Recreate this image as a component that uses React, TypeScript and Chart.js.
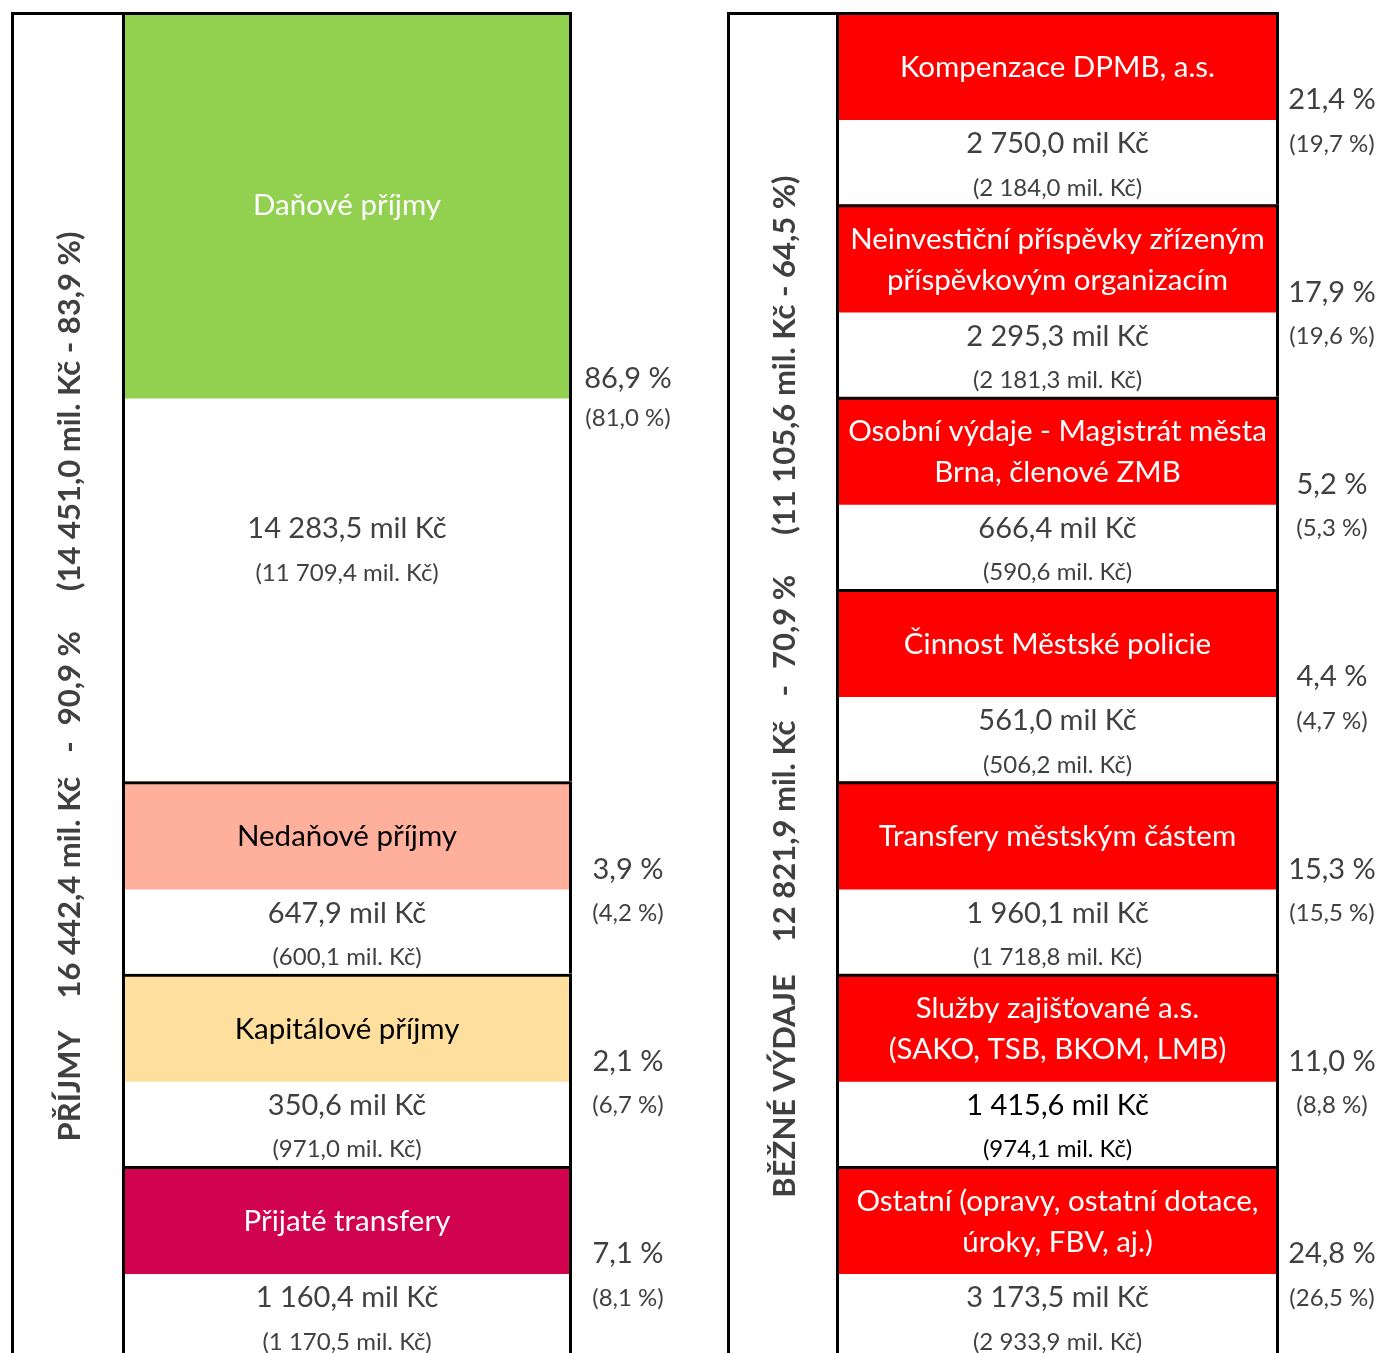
import React, { useEffect, useRef } from "react";
import { Chart, registerables } from "chart.js";

Chart.register(...registerables);

// ---------------- data ----------------
const incomeCategories = ["Daňové příjmy", "Nedaňové příjmy", "Kapitálové příjmy", "Přijaté transfery"];
const incomeValues = [14283.5, 647.9, 350.6, 1160.4];
const incomePrevValues = [11709.4, 600.1, 971.0, 1170.5];
const incomeShares = [86.9, 3.9, 2.1, 7.1];
const incomePrevShares = [81.0, 4.2, 6.7, 8.1];

const expenseCategories = [
  "Kompenzace DPMB, a.s.",
  "Neinvestiční příspěvky zřízeným\npříspěvkovým organizacím",
  "Osobní výdaje - Magistrát města\nBrna, členové ZMB",
  "Činnost Městské policie",
  "Transfery městským částem",
  "Služby zajišťované a.s.\n(SAKO, TSB, BKOM, LMB)",
  "Ostatní (opravy, ostatní dotace,\núroky, FBV, aj.)",
];
const expenseValues = [2750.0, 2295.3, 666.4, 561.0, 1960.1, 1415.6, 3173.5];
const expensePrevValues = [2184.0, 2181.3, 590.6, 506.2, 1718.8, 974.1, 2933.9];
const expenseShares = [21.4, 17.9, 5.2, 4.4, 15.3, 11.0, 24.8];
const expensePrevShares = [19.7, 19.6, 5.3, 4.7, 15.5, 8.8, 26.5];

const incomeTitle = "PŘÍJMY";
const incomeTotal = 16442.4;
const incomeTotalShare = 90.9;
const incomePrevTotal = 14451.0;
const incomePrevTotalShare = 83.9;

const expenseTitle = "BĚŽNÉ VÝDAJE";
const expenseTotal = 12821.9;
const expenseTotalShare = 70.9;
const expensePrevTotal = 11105.6;
const expensePrevTotalShare = 64.5;

// ---------------- layout & style ----------------
const W = 1380;
const H = 1353;
const ROW_TOP_PX = 12;
const ROW_PX = 192.33;
const Y_MIN = -ROW_TOP_PX / ROW_PX;
const Y_MAX = (H - ROW_TOP_PX) / ROW_PX;

const COL = {
  incLabel: { x: 68, w: 114, text: 70 },
  incBlocks: { x: 347, w: 450 },
  incPct: { x: 628 },
  expLabel: { x: 783, w: 112, text: 785 },
  expBlocks: { x: 1057.5, w: 443 },
  expPct: { x: 1332 },
};

const incomeSpans = [4, 1, 1, 1];
const expenseSpans = [1, 1, 1, 1, 1, 1, 1];
const HEADER_FRAC = 0.562;
const TEXT_SHIFT_PX = 1.5;

const incomeColors = ["#92D050", "#FFB09C", "#FFDF9D", "#D1034F"];
const incomeHeaderTextColors = ["#FFFFFF", "#000000", "#000000", "#FFFFFF"];
const expenseColors = expenseCategories.map(() => "#FF0000");
const expenseHeaderTextColors = expenseCategories.map(() => "#FFFFFF");
const incomeValueColors = incomeCategories.map(() => "#404040");
const expenseValueColors = ["#404040", "#404040", "#404040", "#404040", "#404040", "#000000", "#404040"];

const FONT = 'Lato, "Open Sans", sans-serif';
const HEADER_FONT = `29.5px ${FONT}`;
const VALUE_FONT = `29px ${FONT}`;
const PREV_FONT = `24px ${FONT}`;
const PCT_FONT = `29px ${FONT}`;
const PCT_PREV_FONT = `24px ${FONT}`;
const SIDE_FONT = `bold 31px ${FONT}`;
const GRAY = "#404040";

// ---------------- helpers ----------------
const fmt = (v: number) => {
  const [i, d] = v.toFixed(1).split(".");
  return i.replace(/\B(?=(\d{3})+(?!\d))/g, " ") + "," + d;
};

const starts = (spans: number[]) => {
  const out: number[] = [];
  let acc = 0;
  spans.forEach((s) => {
    out.push(acc);
    acc += s;
  });
  return out;
};

const incomeStarts = starts(incomeSpans);
const expenseStarts = starts(expenseSpans);

const headerEnd = (s: number, span: number) => (span === 1 ? s + HEADER_FRAC : s + span / 2 + 0.01);

const outlineStyle = {
  backgroundColor: "rgba(0,0,0,0)",
  borderColor: "#000000",
  borderWidth: { top: 3, left: 3, right: 3, bottom: 0 },
  borderSkipped: false as const,
  inflateAmount: 0,
  stack: "all",
  order: 0,
};

const headerStyle = {
  borderWidth: 0,
  borderSkipped: false as const,
  inflateAmount: 0,
  stack: "all",
  order: 1,
};

function itemAnchors(s: number, span: number) {
  if (span === 1) {
    return { header: s + 0.281, value: s + 0.678, prev: s + 0.907, pct: s + 0.449, pctPrev: s + 0.678 };
  }
  const mid = s + span / 2;
  return { header: s + span / 4, value: mid + 0.678, prev: mid + 0.912, pct: mid - 0.102, pctPrev: mid + 0.106 };
}

const textPlugin = {
  id: "blockTexts",
  afterDatasetsDraw(chart: any) {
    const ctx: CanvasRenderingContext2D = chart.ctx;
    const xs = chart.scales.x;
    const ys = chart.scales.y;
    ctx.save();
    ctx.textAlign = "center";
    ctx.textBaseline = "middle";

    const put = (t: string, xv: number, yv: number, font: string, color: string) => {
      ctx.font = font;
      ctx.fillStyle = color;
      ctx.fillText(t, xs.getPixelForValue(xv), ys.getPixelForValue(yv) + TEXT_SHIFT_PX);
    };

    const panel = (
      cats: string[], vals: number[], prevs: number[], shares: number[], prevShares: number[],
      st: number[], spans: number[], blockX: number, pctX: number, headColors: string[], valColors: string[]
    ) => {
      cats.forEach((c, i) => {
        const a = itemAnchors(st[i], spans[i]);
        const lines = c.split("\n");
        const lh = 0.2132;
        lines.forEach((ln, k) => {
          const off = (k - (lines.length - 1) / 2) * lh;
          put(ln, blockX, a.header + off, HEADER_FONT, headColors[i]);
        });
        put(`${fmt(vals[i])} mil Kč`, blockX, a.value, VALUE_FONT, valColors[i]);
        put(`(${fmt(prevs[i])} mil. Kč)`, blockX, a.prev, PREV_FONT, valColors[i]);
        put(`${fmt(shares[i])} %`, pctX, a.pct, PCT_FONT, GRAY);
        put(`(${fmt(prevShares[i])} %)`, pctX, a.pctPrev, PCT_PREV_FONT, GRAY);
      });
    };

    panel(incomeCategories, incomeValues, incomePrevValues, incomeShares, incomePrevShares,
      incomeStarts, incomeSpans, COL.incBlocks.x, COL.incPct.x, incomeHeaderTextColors, incomeValueColors);
    panel(expenseCategories, expenseValues, expensePrevValues, expenseShares, expensePrevShares,
      expenseStarts, expenseSpans, COL.expBlocks.x, COL.expPct.x, expenseHeaderTextColors, expenseValueColors);

    // rotated side labels
    const side = (parts: string[], gaps: number[], xv: number, centerUnits: number) => {
      ctx.font = SIDE_FONT;
      ctx.fillStyle = GRAY;
      const widths = parts.map((p) => ctx.measureText(p).width);
      const total = widths.reduce((a, b) => a + b, 0) + gaps.reduce((a, b) => a + b, 0);
      const cx = xs.getPixelForValue(xv);
      const cy = ys.getPixelForValue(centerUnits);
      ctx.save();
      ctx.translate(cx, cy);
      ctx.rotate(-Math.PI / 2);
      ctx.textAlign = "left";
      let pos = -total / 2;
      parts.forEach((p, i) => {
        ctx.fillText(p, pos, 0);
        pos += widths[i] + (gaps[i] || 0);
      });
      ctx.restore();
    };
    const gaps = [32, 24, 16, 40];
    side(
      [incomeTitle, `${fmt(incomeTotal)} mil. Kč`, "-", `${fmt(incomeTotalShare)} %`, `(${fmt(incomePrevTotal)} mil. Kč - ${fmt(incomePrevTotalShare)} %)`],
      gaps, COL.incLabel.text, 3.507
    );
    side(
      [expenseTitle, `${fmt(expenseTotal)} mil. Kč`, "-", `${fmt(expenseTotalShare)} %`, `(${fmt(expensePrevTotal)} mil. Kč - ${fmt(expensePrevTotalShare)} %)`],
      gaps, COL.expLabel.text, 3.507
    );
    ctx.restore();
  },
};

export default function App() {
  const ref = useRef<HTMLCanvasElement>(null);
  useEffect(() => {
    document.body.style.margin = "0";
    document.body.style.overflow = "hidden";
    const canvas = ref.current;
    if (!canvas) return;

    const datasets: any[] = [
      { label: "frameIncome", data: [{ x: COL.incLabel.x, y: [0, 8] }], barThickness: COL.incLabel.w, ...outlineStyle },
      { label: "frameExpense", data: [{ x: COL.expLabel.x, y: [0, 8] }], barThickness: COL.expLabel.w, ...outlineStyle },
      {
        label: "incomeOutline",
        data: incomeStarts.map((s, i) => ({ x: COL.incBlocks.x, y: [s, s + incomeSpans[i]] })),
        barThickness: COL.incBlocks.w,
        ...outlineStyle,
      },
      {
        label: "expenseOutline",
        data: expenseStarts.map((s, i) => ({ x: COL.expBlocks.x, y: [s, s + expenseSpans[i]] })),
        barThickness: COL.expBlocks.w,
        ...outlineStyle,
      },
      {
        label: "incomeHeaders",
        data: incomeStarts.map((s, i) => ({ x: COL.incBlocks.x, y: [s, headerEnd(s, incomeSpans[i])] })),
        backgroundColor: incomeColors,
        barThickness: COL.incBlocks.w,
        ...headerStyle,
      },
      {
        label: "expenseHeaders",
        data: expenseStarts.map((s, i) => ({ x: COL.expBlocks.x, y: [s, headerEnd(s, expenseSpans[i])] })),
        backgroundColor: expenseColors,
        barThickness: COL.expBlocks.w,
        ...headerStyle,
      },
    ];

    const chart = new Chart(canvas, {
      type: "bar",
      data: { datasets },
      options: {
        animation: false,
        responsive: false,
        devicePixelRatio: 1,
        events: [],
        layout: { padding: 0 },
        plugins: { legend: { display: false }, tooltip: { enabled: false }, title: { display: false } },
        scales: {
          x: { type: "linear", min: 0, max: W, offset: false, display: false, stacked: true },
          y: { type: "linear", min: Y_MIN, max: Y_MAX, reverse: true, display: false, stacked: false },
        },
      } as any,
      plugins: [textPlugin],
    });
    return () => chart.destroy();
  }, []);

  return <canvas ref={ref} width={W} height={H} style={{ display: "block", width: W, height: H }} />;
}
